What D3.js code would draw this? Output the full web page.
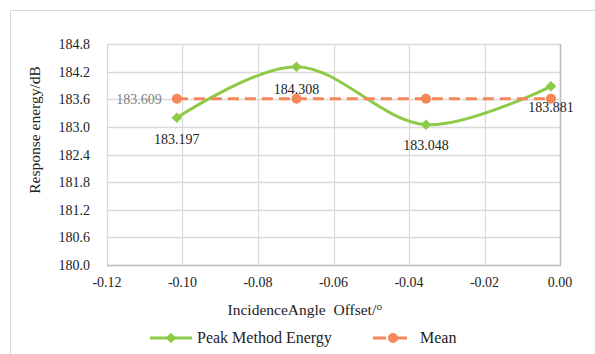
<!DOCTYPE html>
<html>
<head>
<meta charset="utf-8">
<script src="https://cdn.jsdelivr.net/npm/d3@7"></script>
<style>
  body { margin: 0; background: #fff; }
</style>
</head>
<body>
<svg id="chart" width="595" height="354" font-family="'Liberation Serif', 'Times New Roman', serif"></svg>
<script>
// chart data
var offsets = [-0.1015, -0.0698, -0.0355, -0.0024];
var peakEnergy = [183.197, 184.308, 183.048, 183.881];
var meanEnergy = [183.609, 183.609, 183.609, 183.609];
var yTicks = [180.0, 180.6, 181.2, 181.8, 182.4, 183.0, 183.6, 184.2, 184.8];
var xTicks = [-0.12, -0.10, -0.08, -0.06, -0.04, -0.02, 0.00];

var green = "#8DCB47";
var orange = "#F5875A";

const drawChart = () => {
    var svg = d3.select("#chart");

    // outer frame
    svg.append("rect")
        .attr("x", 10.5).attr("y", 10.5)
        .attr("width", 600).attr("height", 360)
        .attr("fill", "none").attr("stroke", "#d9d9d9");

    var plotLeft = 107, plotRight = 560, plotTop = 44, plotBottom = 265;

    var x = d3.scaleLinear().domain([-0.12, 0]).range([plotLeft, plotRight]);
    var y = d3.scaleLinear().domain([180, 184.8]).range([plotBottom, plotTop]);

    // gridlines
    svg.append("g").selectAll("line").data(yTicks).enter().append("line")
        .attr("x1", plotLeft).attr("x2", plotRight)
        .attr("y1", d => Math.round(y(d)) + 0.5).attr("y2", d => Math.round(y(d)) + 0.5)
        .attr("stroke", "#d9d9d9").attr("stroke-width", 1.3);
    svg.append("g").selectAll("line").data(xTicks).enter().append("line")
        .attr("x1", d => Math.round(x(d)) + 0.5).attr("x2", d => Math.round(x(d)) + 0.5)
        .attr("y1", plotTop).attr("y2", plotBottom)
        .attr("stroke", "#d9d9d9").attr("stroke-width", 1.3);

    // axis lines (bottom and right side look darker)
    svg.append("line").attr("x1", plotLeft).attr("x2", plotRight + 1)
        .attr("y1", plotBottom + 0.5).attr("y2", plotBottom + 0.5)
        .attr("stroke", "#bfbfbf").attr("stroke-width", 1.5);
    svg.append("line").attr("x1", plotRight + 0.5).attr("x2", plotRight + 0.5)
        .attr("y1", plotTop).attr("y2", plotBottom)
        .attr("stroke", "#bfbfbf").attr("stroke-width", 1.5);

    // tick labels
    svg.append("g").selectAll("text").data(yTicks).enter().append("text")
        .attr("x", 90).attr("y", d => y(d) + 5)
        .attr("text-anchor", "end").attr("font-size", 14).attr("fill", "#222")
        .text(d => d.toFixed(1));
    svg.append("g").selectAll("text").data(xTicks).enter().append("text")
        .attr("x", d => x(d)).attr("y", 287)
        .attr("text-anchor", "middle").attr("font-size", 14).attr("fill", "#222")
        .text(d => d.toFixed(2));

    // axis titles
    svg.append("text")
        .attr("transform", "translate(40,130) rotate(-90)")
        .attr("text-anchor", "middle").attr("font-size", 15.5).attr("fill", "#222")
        .text("Response energy/dB");
    svg.append("text")
        .attr("x", 305).attr("y", 315)
        .attr("text-anchor", "middle").attr("font-size", 15.5).attr("fill", "#222")
        .text("IncidenceAngle\u00a0\u00a0Offset/\u00b0");

    // series
    var peakPts = offsets.map((d, i) => [x(d), y(peakEnergy[i])]);
    var meanPts = offsets.map((d, i) => [x(d), y(meanEnergy[i])]);

    svg.append("path")
        .attr("d", d3.line().curve(d3.curveCatmullRom.alpha(0.5))(peakPts))
        .attr("fill", "none").attr("stroke", green).attr("stroke-width", 3);

    svg.append("path")
        .attr("d", d3.line()(meanPts))
        .attr("fill", "none").attr("stroke", orange).attr("stroke-width", 3)
        .attr("stroke-dasharray", "11,6");

    var diamond = d3.symbol().type(d3.symbolDiamond2).size(70);
    svg.append("g").selectAll("path").data(peakPts).enter().append("path")
        .attr("d", diamond)
        .attr("transform", d => "translate(" + d[0] + "," + d[1] + ")")
        .attr("fill", green);

    svg.append("g").selectAll("circle").data(meanPts).enter().append("circle")
        .attr("cx", d => d[0]).attr("cy", d => d[1]).attr("r", 5)
        .attr("fill", orange);

    // data labels, all below their point
    var labelDy = [26, 27, 25, 26];
    svg.append("g").selectAll("text").data(peakPts).enter().append("text")
        .attr("x", d => d[0]).attr("y", (d, i) => d[1] + labelDy[i])
        .attr("text-anchor", "middle").attr("font-size", 14).attr("fill", "#222")
        .text((d, i) => peakEnergy[i].toFixed(3));

    svg.append("text")
        .attr("x", meanPts[0][0] - 15).attr("y", meanPts[0][1] + 5)
        .attr("text-anchor", "end").attr("font-size", 14).attr("fill", "#7f7f7f")
        .text(meanEnergy[0].toFixed(3));

    // legend
    var legY = 338;
    svg.append("line").attr("x1", 150).attr("x2", 192).attr("y1", legY).attr("y2", legY)
        .attr("stroke", green).attr("stroke-width", 3);
    svg.append("path").attr("d", diamond)
        .attr("transform", "translate(171," + legY + ")").attr("fill", green);
    svg.append("text").attr("x", 197).attr("y", legY + 5)
        .attr("font-size", 16).attr("fill", "#222").text("Peak Method Energy");

    svg.append("line").attr("x1", 373).attr("x2", 407).attr("y1", legY).attr("y2", legY)
        .attr("stroke", orange).attr("stroke-width", 3)
        .attr("stroke-dasharray", "13,8");
    svg.append("circle").attr("cx", 393).attr("cy", legY).attr("r", 5).attr("fill", orange);
    svg.append("text").attr("x", 420).attr("y", legY + 5)
        .attr("font-size", 16).attr("fill", "#222").text("Mean");
}

drawChart();
</script>
</body>
</html>
